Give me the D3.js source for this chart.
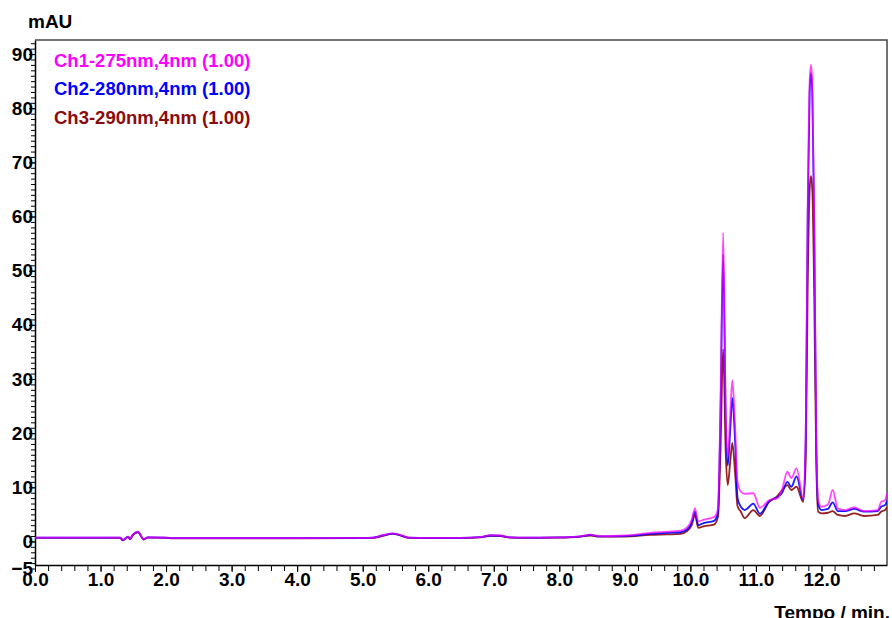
<!DOCTYPE html>
<html>
<head>
<meta charset="utf-8">
<script src="https://cdn.jsdelivr.net/npm/d3@7"></script>
<style>
  body { margin: 0; background: white; }
  svg { display: block; font-family: "Liberation Sans", Arial, sans-serif; }
</style>
</head>
<body>
<svg id="chart" width="892" height="618"></svg>
<script>
/// data ///
// retention time (min)
const times = [0.0, 0.5, 1.0, 1.3, 1.34, 1.42, 1.45, 1.49, 1.57, 1.66, 1.72, 2.0, 2.1, 3.0, 4.0,
  5.0, 5.16, 5.3, 5.46, 5.6, 5.7, 6.0, 6.5, 6.8, 6.95, 7.1, 7.25, 7.5, 8.0, 8.3, 8.48, 8.6,
  9.0, 9.39, 9.65, 9.85, 9.95, 10.02, 10.07, 10.12, 10.2, 10.36, 10.42, 10.46, 10.5, 10.54,
  10.57, 10.61, 10.64, 10.68, 10.72, 10.77, 10.83, 10.96, 11.06, 11.2, 11.33, 11.4, 11.48,
  11.54, 11.62, 11.72, 11.76, 11.79, 11.82, 11.84, 11.86, 11.89, 11.92, 11.95, 12.0, 12.1,
  12.17, 12.25, 12.36, 12.5, 12.65, 12.86, 12.91, 12.97, 13.0]
// absorbance (mAU) per channel
const ch1 = [0.7, 0.7, 0.7, 0.7, 0.25, 0.9, 0.45, 1.2, 1.8, 0.4, 0.75, 0.7, 0.6, 0.6, 0.6,
  0.65, 0.7, 1.1, 1.5, 1.1, 0.7, 0.65, 0.65, 0.8, 1.15, 1.1, 0.75, 0.7, 0.75, 0.95, 1.25, 1.0,
  1.1, 1.6, 1.8, 2.0, 2.6, 4.0, 6.1, 3.7, 4.0, 4.5, 6.0, 26, 57, 24,
  15.6, 24, 29.8, 22, 11, 9.2, 8.8, 8.9, 6.2, 7.6, 8.0, 9.6, 12.9,
  11.7, 13.5, 8.0, 20, 62, 85, 88, 85, 60, 20, 7.7, 6.4, 6.8,
  9.5, 6.1, 5.8, 6.3, 5.6, 5.8, 7.3, 7.6, 8.9]
const ch2 = [0.7, 0.7, 0.7, 0.7, 0.25, 0.9, 0.45, 1.2, 1.75, 0.4, 0.75, 0.7, 0.6, 0.6, 0.6,
  0.65, 0.7, 1.1, 1.45, 1.05, 0.7, 0.65, 0.65, 0.8, 1.1, 1.05, 0.75, 0.7, 0.75, 0.9, 1.2, 0.95,
  1.0, 1.4, 1.6, 1.7, 2.2, 3.5, 5.5, 3.0, 3.4, 3.8, 5.2, 24, 53, 22,
  14, 21, 26.5, 19, 8, 6.4, 5.8, 7.0, 5.1, 7.4, 8.2, 9.0, 11.0,
  10.1, 12.0, 7.7, 19, 60, 83, 86.5, 83, 58, 19, 6.8, 5.8, 6.0,
  7.2, 5.6, 5.6, 6.0, 5.5, 5.6, 6.4, 6.7, 7.5]
const ch3 = [0.65, 0.65, 0.65, 0.65, 0.2, 0.85, 0.4, 1.1, 1.7, 0.35, 0.7, 0.65, 0.55, 0.55, 0.55,
  0.6, 0.65, 1.0, 1.4, 1.0, 0.65, 0.6, 0.6, 0.75, 1.05, 1.0, 0.7, 0.65, 0.7, 0.85, 1.1, 0.9,
  0.9, 1.2, 1.3, 1.4, 1.9, 3.0, 4.9, 2.5, 2.8, 3.1, 4.5, 17, 35.5, 16,
  10.4, 15, 18.2, 13, 6.5, 5.5, 4.3, 5.8, 4.7, 7.3, 8.4, 9.5, 10.4,
  9.5, 10.1, 7.3, 15, 47, 65, 67.5, 65, 45, 15, 5.5, 5.2, 5.3,
  5.6, 4.9, 4.7, 5.2, 4.7, 4.9, 5.5, 5.8, 6.3]
const channelNames = ["Ch1-275nm,4nm (1.00)", "Ch2-280nm,4nm (1.00)", "Ch3-290nm,4nm (1.00)"]
// tick labels
const xTickLabels = [0, 1, 2, 3, 4, 5, 6, 7, 8, 9, 10, 11, 12]
const yTickLabels = [-5, 0, 10, 20, 30, 40, 50, 60, 70, 80, 90]

/// constants ///
const width = 892
const height = 618
const margin = {top: 40, right: 5, bottom: 53, left: 35}
const colours = ["#ff00ff", "#0000ff", "#8b0a0a"]
const labelFont = "19px"

const svg = d3.select("#chart")

/// Scales ///
const xScale = d3.scaleLinear()
  .domain([0, 13])
  .range([margin.left, width - margin.right])
const yScale = d3.scaleLinear()
  .domain([-4.35, 92.6])
  .range([height - margin.bottom, margin.top])

/// Axes ///
// minor ticks first, then the labelled ones on top
const xMinor = d3.range(0, 65).map(i => i / 5)
svg.append("g")
  .attr("transform", `translate(0, ${height - margin.bottom})`)
  .call(d3.axisBottom(xScale).tickValues(xMinor).tickSize(6).tickFormat(""))
  .call(g => g.select(".domain").remove())

svg.append("g")
  .attr("transform", `translate(0, ${height - margin.bottom})`)
  .call(d3.axisBottom(xScale).tickValues(xTickLabels).tickSize(7).tickPadding(1)
    .tickFormat(d3.format(".1f")).tickSizeOuter(0))
  .call(g => g.select(".domain").attr("stroke-width", 1.5))
  .call(g => g.selectAll("text")
    .attr("font-size", labelFont)
    .attr("font-weight", "bold")
    .attr("fill", "black"))

const yMinor = d3.range(-4, 93)
svg.append("g")
  .attr("transform", `translate(${margin.left}, 0)`)
  .call(d3.axisLeft(yScale).tickValues(yMinor).tickSize(4).tickFormat(""))
  .call(g => g.select(".domain").remove())

svg.append("g")
  .attr("transform", `translate(${margin.left}, 0)`)
  .call(d3.axisLeft(yScale).tickValues(yTickLabels).tickSize(6).tickPadding(-4).tickSizeOuter(0))
  .call(g => g.select(".domain").attr("stroke-width", 1.5))
  .call(g => g.selectAll("text")
    .attr("font-size", labelFont)
    .attr("font-weight", "bold")
    .attr("fill", "black"))

// top and right edges of the frame
svg.append("path")
  .attr("d", `M${margin.left},${margin.top}H${width - margin.right}V${height - margin.bottom}`)
  .attr("fill", "none")
  .attr("stroke", "#444")
  .attr("stroke-width", 1.5)

// axis titles
svg.append("text")
  .attr("x", 28).attr("y", 28)
  .attr("font-size", labelFont).attr("font-weight", "bold")
  .text("mAU")
svg.append("text")
  .attr("x", 890).attr("y", 619)
  .attr("text-anchor", "end")
  .attr("font-size", labelFont).attr("font-weight", "bold")
  .text("Tempo / min.")

/// Traces ///
svg.append("clipPath").attr("id", "plot-clip")
  .append("rect")
  .attr("x", margin.left).attr("y", margin.top)
  .attr("width", width - margin.left - margin.right)
  .attr("height", height - margin.top - margin.bottom)

const line = d3.line()
  .x(d => xScale(d[0]))
  .y(d => yScale(d[1]))
  .curve(d3.curveMonotoneX)

const series = [ch3, ch2, ch1]
const seriesColours = [colours[2], colours[1], colours[0]]
series.forEach((values, i) => {
  svg.append("path")
    .datum(times.map((t, j) => [t, values[j]]))
    .attr("clip-path", "url(#plot-clip)")
    .attr("fill", "none")
    .attr("stroke", seriesColours[i])
    .attr("stroke-width", 1.8)
    .attr("stroke-opacity", i === 2 ? 0.72 : 0.9)
    .attr("stroke-linejoin", "round")
    .attr("d", line)
})

/// Legend ///
svg.selectAll(".legend-text")
  .data(channelNames)
  .join("text")
  .classed("legend-text", true)
  .attr("x", 54)
  .attr("y", (d, i) => 66.5 + i * 28.5)
  .attr("font-size", "18.5px")
  .attr("font-weight", "bold")
  .attr("fill", (d, i) => colours[i])
  .text(d => d)
</script>
</body>
</html>
